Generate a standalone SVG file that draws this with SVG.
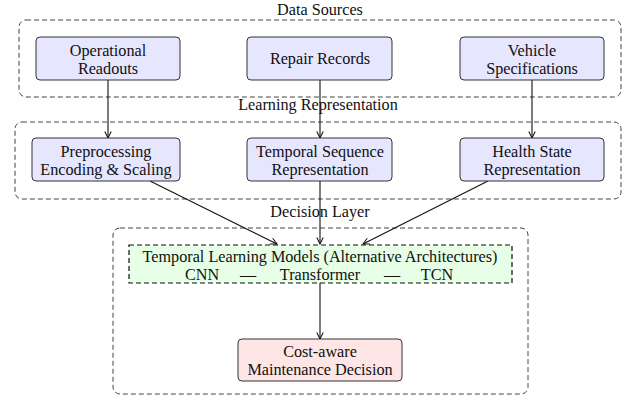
<svg xmlns="http://www.w3.org/2000/svg" width="626" height="404" viewBox="0 0 626 404">
<defs>
<style>
text{font-family:"Liberation Serif","Times New Roman",serif;font-size:16.2px;fill:#111;text-anchor:middle}
.grp{fill:none;stroke:#444;stroke-width:1;stroke-dasharray:5,3}
.node{stroke:#333;stroke-width:1}
.blue{fill:#E6E6FF}
.green{fill:#E6FFE6;stroke:#111;stroke-width:1.2;stroke-dasharray:5,3}
.red{fill:#FFE6E6}
.edge{stroke:#111;stroke-width:1.1;fill:none;marker-end:url(#arr)}
</style>
<marker id="arr" viewBox="0 0 10 10" refX="9" refY="5" markerWidth="8" markerHeight="8" orient="auto" markerUnits="userSpaceOnUse">
<path d="M1,1 L9,5 L1,9" fill="none" stroke="#111" stroke-width="1.3"/>
</marker>
</defs>
<rect width="626" height="404" fill="#fff"/>

<g id="data-sources">
<rect class="grp" x="19" y="20" width="602" height="77" rx="7"/>
<text x="320" y="14.6">Data Sources</text>
</g>
<g id="learning-representation">
<rect class="grp" x="15" y="122" width="606" height="77" rx="7"/>
<text x="318" y="110">Learning Representation</text>
</g>
<g id="decision-layer">
<rect class="grp" x="113" y="228" width="415" height="166" rx="7"/>
<text x="320" y="217">Decision Layer</text>
</g>

<g id="edges">
<line class="edge" x1="108" y1="80" x2="108" y2="138"/>
<line class="edge" x1="320" y1="80" x2="320" y2="138"/>
<line class="edge" x1="532" y1="80" x2="532" y2="138"/>
<line class="edge" x1="150" y1="181" x2="277" y2="244"/>
<line class="edge" x1="320" y1="181" x2="320" y2="244"/>
<line class="edge" x1="488" y1="181" x2="363" y2="244"/>
<line class="edge" x1="320" y1="283" x2="320" y2="339"/>
</g>

<g id="operational-readouts">
<rect class="node blue" x="36" y="37" width="144" height="43" rx="4"/>
<text x="108" y="55.5">Operational</text>
<text x="108" y="73.5">Readouts</text>
</g>
<g id="repair-records">
<rect class="node blue" x="247" y="37" width="145" height="43" rx="4"/>
<text x="320" y="64">Repair Records</text>
</g>
<g id="vehicle-specifications">
<rect class="node blue" x="460" y="37" width="144" height="43" rx="4"/>
<text x="532" y="55.5">Vehicle</text>
<text x="532" y="73.5">Specifications</text>
</g>

<g id="preprocessing">
<rect class="node blue" x="32" y="138" width="148" height="43" rx="4"/>
<text x="106" y="156.5">Preprocessing</text>
<text x="106" y="174.5">Encoding &amp; Scaling</text>
</g>
<g id="temporal-sequence">
<rect class="node blue" x="247" y="138" width="145" height="43" rx="4"/>
<text x="320" y="156.5">Temporal Sequence</text>
<text x="320" y="174.5">Representation</text>
</g>
<g id="health-state">
<rect class="node blue" x="460" y="138" width="144" height="43" rx="4"/>
<text x="532" y="156.5">Health State</text>
<text x="532" y="174.5">Representation</text>
</g>

<g id="temporal-models">
<rect class="green" x="129" y="245" width="383" height="38"/>
<text x="320" y="261.5">Temporal Learning Models (Alternative Architectures)</text>
<text x="202" y="279.5">CNN</text>
<text x="248" y="279.5">—</text>
<text x="320" y="279.5">Transformer</text>
<text x="392" y="279.5">—</text>
<text x="437" y="279.5">TCN</text>
</g>

<g id="cost-aware">
<rect class="node red" x="238" y="339" width="164" height="42" rx="4"/>
<text x="320" y="356.5">Cost-aware</text>
<text x="320" y="374.5">Maintenance Decision</text>
</g>
</svg>
